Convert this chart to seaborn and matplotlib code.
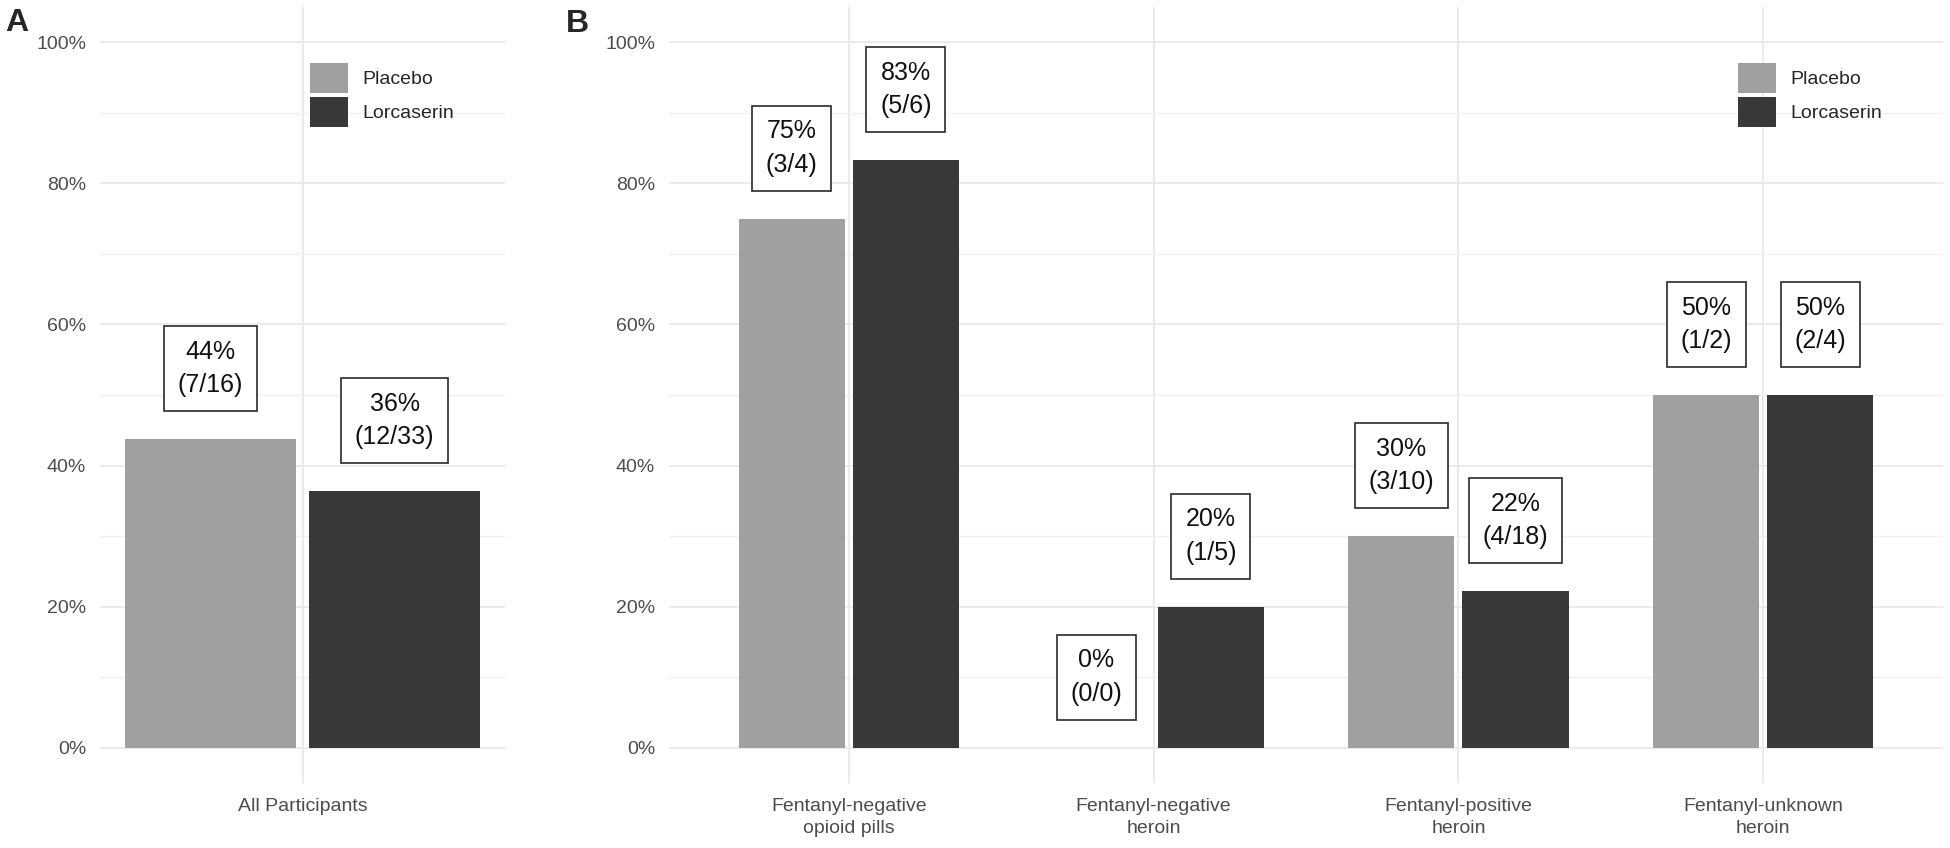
import pandas as pd
import matplotlib.pyplot as plt
import seaborn as sns

# Panel A data
groups_a = ["All Participants"]
placebo_a = [0.4375]
lorcaserin_a = [0.3636]
placebo_a_labels = ["44%\n(7/16)"]
lorcaserin_a_labels = ["36%\n(12/33)"]

# Panel B data
groups_b = ["Fentanyl-negative\nopioid pills", "Fentanyl-negative\nheroin",
            "Fentanyl-positive\nheroin", "Fentanyl-unknown\nheroin"]
placebo_b = [0.75, 0.0, 0.30, 0.50]
lorcaserin_b = [0.8333, 0.20, 0.2222, 0.50]
placebo_b_labels = ["75%\n(3/4)", "0%\n(0/0)", "30%\n(3/10)", "50%\n(1/2)"]
lorcaserin_b_labels = ["83%\n(5/6)", "20%\n(1/5)", "22%\n(4/18)", "50%\n(2/4)"]

arms = ["Placebo", "Lorcaserin"]
colors = {"Placebo": "#A0A0A0", "Lorcaserin": "#383838"}

sns.set_theme(style="white")
plt.rcParams["font.family"] = ["Liberation Sans", "DejaVu Sans"]


def long_df(groups, plc, lor):
    return pd.DataFrame({
        "group": groups + groups,
        "arm": ["Placebo"] * len(groups) + ["Lorcaserin"] * len(groups),
        "rate": plc + lor,
    })


def draw_panel(ax, groups, plc, lor, plc_lab, lor_lab, width, xlim, legend_x):
    df = long_df(groups, plc, lor)
    sns.barplot(data=df, x="group", y="rate", hue="arm", hue_order=arms,
                palette=colors, width=width, gap=0.07, saturation=1,
                linewidth=0, ax=ax, zorder=3)
    # labels above bars
    for cont, labs in zip(ax.containers, [plc_lab, lor_lab]):
        for bar, lab in zip(cont, labs):
            ax.text(bar.get_x() + bar.get_width() / 2, bar.get_height() + 0.10,
                    lab, ha="center", va="center", fontsize=18,
                    linespacing=1.5, color="#111111", zorder=5,
                    bbox=dict(boxstyle="square,pad=0.55", fc="white",
                              ec="#2A2A2A", lw=1.2))
    ax.set_ylim(-0.05, 1.05)
    ax.set_xlim(*xlim)
    ax.set_yticks([0, 0.2, 0.4, 0.6, 0.8, 1.0])
    ax.set_yticklabels(["0%", "20%", "40%", "60%", "80%", "100%"])
    ax.set_yticks([0.1, 0.3, 0.5, 0.7, 0.9], minor=True)
    ax.grid(True, which="major", color="#EBEBEB", lw=1.4, zorder=0)
    ax.grid(True, which="minor", axis="y", color="#F0F0F0", lw=1.0, zorder=0)
    ax.set_axisbelow(True)
    ax.tick_params(axis="both", which="both", length=0, labelsize=14,
                   labelcolor="#4D4D4D")
    ax.tick_params(axis="x", pad=11)
    ax.tick_params(axis="y", pad=10)
    for t in ax.get_xticklabels():
        t.set_linespacing(1.35)
    ax.set_xlabel("")
    ax.set_ylabel("")
    for s in ax.spines.values():
        s.set_visible(False)
    sns.move_legend(ax, "upper left", bbox_to_anchor=(legend_x, 0.928),
                    title=None, frameon=False, fontsize=14, borderpad=0,
                    borderaxespad=0, handlelength=1.95, handleheight=2.0,
                    labelspacing=0.2, handletextpad=0.75)


fig = plt.figure(figsize=(19.5, 8.48), dpi=100)
ax_a = fig.add_axes([100 / 1950, 65 / 848, 405 / 1950, 776 / 848])
ax_b = fig.add_axes([669 / 1950, 65 / 848, 1274 / 1950, 776 / 848])

draw_panel(ax_a, groups_a, placebo_a, lorcaserin_a, placebo_a_labels,
           lorcaserin_a_labels, 0.8, (-0.44, 0.44), 0.519)
draw_panel(ax_b, groups_b, placebo_b, lorcaserin_b, placebo_b_labels,
           lorcaserin_b_labels, 0.75, (-0.59, 3.59), 0.839)

fig.text(5 / 1950, 1 - 8 / 848, "A", fontsize=23, fontweight="bold", va="top")
fig.text(566 / 1950, 1 - 9 / 848, "B", fontsize=23, fontweight="bold", va="top")

fig.savefig("out.png", dpi=100)
